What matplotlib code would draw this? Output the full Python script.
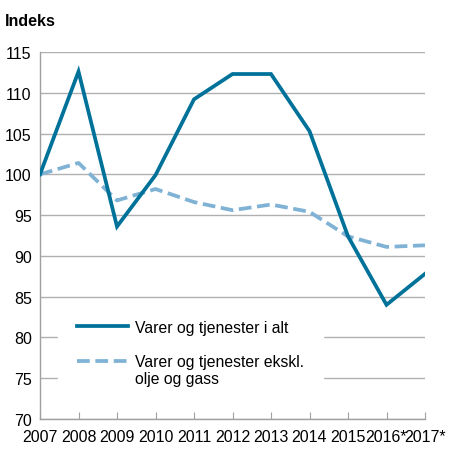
import matplotlib
matplotlib.use("Agg")
import matplotlib.pyplot as plt
import numpy as np

years = ["2007", "2008", "2009", "2010", "2011", "2012", "2013", "2014", "2015", "2016*", "2017*"]
total = [100.0, 112.6, 93.6, 99.9, 109.2, 112.3, 112.3, 105.3, 92.4, 84.0, 87.8]
excl_oil = [100.0, 101.4, 96.8, 98.2, 96.6, 95.6, 96.3, 95.4, 92.4, 91.1, 91.3]
yticks = [70, 75, 80, 85, 90, 95, 100, 105, 110, 115]

plt.rcParams['font.family'] = ['Liberation Sans', 'DejaVu Sans']

fig = plt.figure(figsize=(4.5, 4.6), dpi=100)
ax = fig.add_axes([40/450, 1 - 420/460, 385/450, 367/460])

x = list(range(len(years)))
ax.plot(x, total, color="#00729A", lw=2.7, solid_joinstyle="miter",
        label="Varer og tjenester i alt", zorder=3)
ax.plot(x, excl_oil, color="#7FB2D4", lw=2.7, dashes=(3.4, 1.5),
        label="Varer og tjenester ekskl.\nolje og gass", zorder=2)

ax.set_xlim(0, len(years) - 1)
ax.set_ylim(70, 115)
ax.set_yticks(yticks)
ax.set_xticks(x)
ax.set_xticklabels(years)
ax.grid(axis="y", color="#B0B0B0", lw=1)
ax.set_axisbelow(True)

for s in ["top", "right"]:
    ax.spines[s].set_visible(False)
for s in ["left", "bottom"]:
    ax.spines[s].set_color("#A0A0A0")
    ax.spines[s].set_linewidth(1)

ax.tick_params(axis="y", length=0, labelsize=11.5, pad=6, colors="black")
ax.tick_params(axis="x", direction="in", length=5, color="#A0A0A0",
               labelsize=11.5, pad=7.5)

fig.text(5/450, 1 - 22/460, "Indeks", fontsize=11.5, fontweight="bold",
         va="center", ha="left")

leg = ax.legend(loc="upper left", bbox_to_anchor=((58 - 40) / 385, (420 - 302) / 367),
                frameon=True, fontsize=11.3, handlelength=3.25, handletextpad=0.45,
                labelspacing=1.2, borderpad=1.2, borderaxespad=0)
leg.get_frame().set_edgecolor("white")
leg.get_frame().set_facecolor("white")
leg.get_frame().set_alpha(1)
leg.get_frame().set_boxstyle("square", pad=0)
# align the dashed handle with the first line of its two-line label
ln = leg.get_lines()[1]
ln.set_ydata(np.asarray(ln.get_ydata()) + 0.6 * 11.3)

fig.savefig("out.png", dpi=100)
